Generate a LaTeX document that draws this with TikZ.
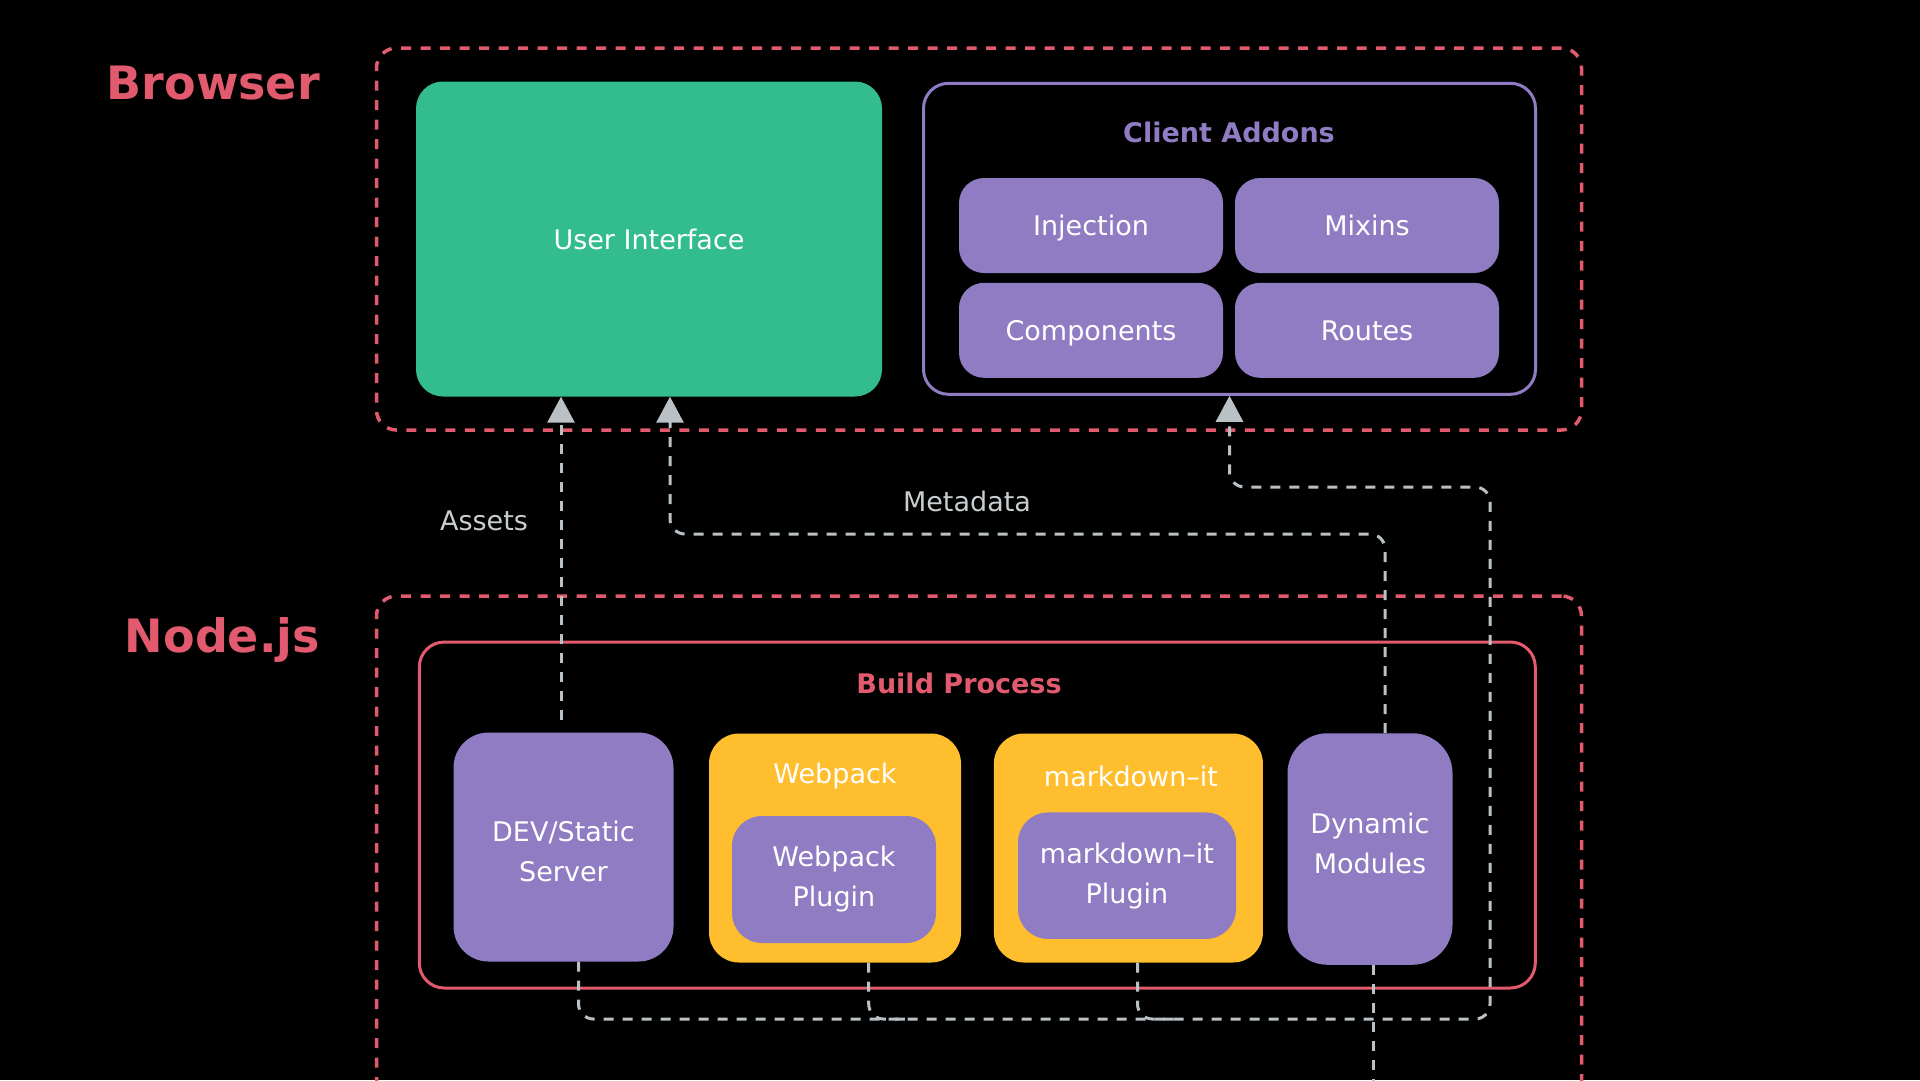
\documentclass[tikz,border=0pt]{standalone}
\usepackage{fontspec}
\setmainfont{DejaVu Sans}
\usetikzlibrary{arrows.meta}
\definecolor{vred}{RGB}{226,90,110}
\definecolor{vpurple}{RGB}{143,124,195}
\definecolor{vgreen}{RGB}{51,188,142}
\definecolor{vyellow}{RGB}{255,190,46}
\definecolor{vgray}{RGB}{186,193,198}
\definecolor{vtext}{RGB}{200,205,208}
\begin{document}
\begin{tikzpicture}[x=1pt,y=-1pt,
  reg/.style={font=\fontsize{27}{40}\selectfont},
  single/.style={text height=20pt, text depth=0pt},
  pbox/.style={fill=vpurple, rounded corners=#1, inner sep=0pt, text=white, reg, align=center},
  pbox/.default=25pt,
  ybox/.style={fill=vyellow, rounded corners=30pt, inner sep=0pt},
  outerbox/.style={draw=vred, line width=3.5pt, dash pattern=on 10pt off 9.5pt, rounded corners=20pt, inner sep=0pt},
  frame/.style={draw=#1, line width=3pt, rounded corners=25pt, inner sep=0pt},
  bigtitle/.style={font=\bfseries\fontsize{46}{50}\selectfont, text=vred, anchor=base east, inner sep=0pt},
  boxtitle/.style={font=\bfseries\fontsize{27}{32}\selectfont, inner sep=0pt, single},
  conn/.style={draw=vgray, line width=3pt, dash pattern=on 10pt off 9pt, rounded corners=15pt},
  tip/.style={-{Triangle[width=27pt,length=26pt]}},
  edgelbl/.style={reg, text=vtext, inner sep=0pt, single}
]
\useasboundingbox (0,0) rectangle (1920,1080);
\fill[black] (0,0) rectangle (1920,1080);
\clip (0,0) rectangle (1920,1080);

% outer dashed regions
\node[outerbox, minimum width=1205pt, minimum height=382pt] (browser) at (979,239) {};
\node[outerbox, minimum width=1205pt, minimum height=700pt] (nodejs) at (979,946) {};
\node[bigtitle] (browserlbl) at (320,99) {Browser};
\node[bigtitle] (nodelbl) at (320,652) {Node.js};

% browser content
\node[pbox=27pt, fill=vgreen, single, minimum width=466pt, minimum height=315pt] (ui) at (649,239) {User Interface};
\node[frame=vpurple, minimum width=612pt, minimum height=311pt] (addons) at (1229.5,238.8) {};
\node[boxtitle, text=vpurple] (addonstitle) at (1229,132) {Client Addons};
\node[pbox, single, minimum width=264pt, minimum height=95pt] (inj) at (1091,225.5) {Injection};
\node[pbox, single, minimum width=264pt, minimum height=95pt] (mix) at (1367,225.5) {Mixins};
\node[pbox, single, minimum width=264pt, minimum height=95pt] (comp) at (1091,330.3) {Components};
\node[pbox, single, minimum width=264pt, minimum height=95pt] (routes) at (1367,330.3) {Routes};

% node.js content
\node[frame=vred, minimum width=1116pt, minimum height=346pt] (build) at (977.3,815) {};
\node[boxtitle, text=vred] (buildtitle) at (959,683) {Build Process};
\node[pbox=35pt, minimum width=220pt, minimum height=229pt] (dev) at (563.5,847) {};
\node[reg, text=white, align=center, inner sep=0pt] (devtxt) at ([yshift=-4pt]dev.center) {DEV/Static\\Server};
\node[ybox, minimum width=252pt, minimum height=229pt] (wp) at (835,848) {};
\node[reg, text=white, inner sep=0pt, anchor=base] (wptitle) at (835,783) {Webpack};
\node[pbox=30pt, minimum width=204pt, minimum height=127pt] (wpp) at (834,879.5) {Webpack\\Plugin};
\node[ybox, minimum width=269pt, minimum height=229pt] (md) at (1128.4,848) {};
\node[reg, text=white, inner sep=0pt, anchor=base] (mdtitle) at (1131,786) {markdown–it};
\node[pbox=30pt, minimum width=218pt, minimum height=126.5pt] (mdp) at (1127,875.7) {markdown–it\\Plugin};
\node[pbox=40pt, minimum width=165pt, minimum height=231.5pt] (dyn) at (1370,849) {};
\node[reg, text=white, align=center, inner sep=0pt] (dyntxt) at ([yshift=6pt]dyn.center) {Dynamic\\Modules};

% helper coordinates
\coordinate (xa) at (561,0);
\coordinate (xm) at (670,0);
\coordinate (xd) at (578.5,0);
\coordinate (xw) at (868.7,0);
\coordinate (xk) at (1137.5,0);
\coordinate (xr) at (1490,0);
\coordinate (xdm) at (1385,0);
\coordinate (xdb) at (1373,0);
\coordinate (ym) at (0,534);
\coordinate (yc) at (0,487);
\coordinate (yb) at (0,1019);
\coordinate (ybot) at (0,1095);

% connectors
\draw[conn, tip, shorten <=12pt] (dev.north -| xa) -- (ui.south -| xa);
\draw[conn, tip] (dyn.north -| xdm) |- (ym -| xm) -- (ui.south -| xm);
\draw[conn, tip] (dev.south -| xd) |- (yb -| xr) |- (yc -| addons.south) -- (addons.south);
\draw[conn] (wp.south -| xw) |- ([xshift=40pt]yb -| xw);
\draw[conn] (md.south -| xk) |- ([xshift=40pt]yb -| xk);
\draw[conn] (dyn.south -| xdb) -- (ybot -| xdb);

% connector labels
\node[edgelbl] (assetslbl) at (484,520) {Assets};
\node[edgelbl] (metalbl) at (967,501) {Metadata};
\end{tikzpicture}
\end{document}
